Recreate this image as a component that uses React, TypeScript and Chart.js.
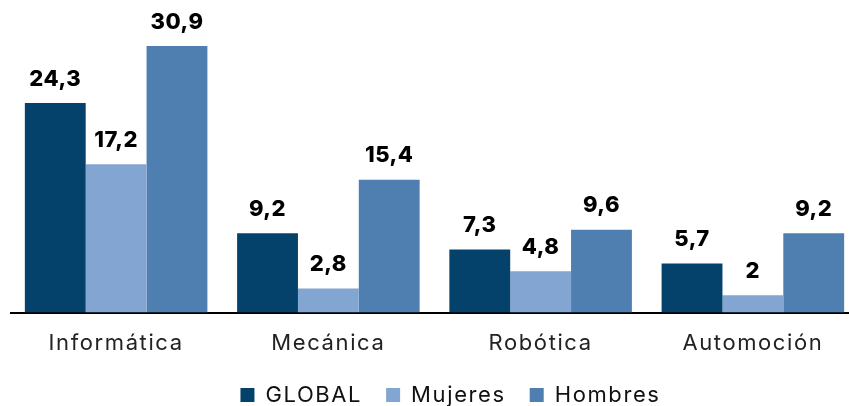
import React, { useEffect, useRef } from "react";
import { Chart, registerables } from "chart.js";

Chart.register(...registerables);

const categories = ["Informática", "Mecánica", "Robótica", "Automoción"];
const globalValues = [24.3, 9.2, 7.3, 5.7];
const mujeresValues = [17.2, 2.8, 4.8, 2];
const hombresValues = [30.9, 15.4, 9.6, 9.2];
const seriesNames = ["GLOBAL", "Mujeres", "Hombres"];
const seriesColors = ["#04426C", "#83A5D1", "#4F7FB0"];

const FONT = "Inter, 'Open Sans', sans-serif";

const spacing = {
  id: "spacing",
  beforeInit(chart: any) {
    chart.ctx.letterSpacing = "1.6px";
  },
  beforeDraw(chart: any) {
    chart.ctx.letterSpacing = "1.6px";
  },
};

const valueLabels = {
  id: "valueLabels",
  afterDatasetsDraw(chart: any) {
    const ctx = chart.ctx;
    ctx.save();
    ctx.letterSpacing = "0.5px";
    ctx.font = `800 22px ${FONT}`;
    ctx.fillStyle = "#000";
    ctx.textAlign = "center";
    ctx.textBaseline = "middle";
    chart.data.datasets.forEach((ds: any, i: number) => {
      const meta = chart.getDatasetMeta(i);
      meta.data.forEach((bar: any, j: number) => {
        const v = ds.data[j];
        ctx.fillText(String(v).replace(".", ","), bar.x, bar.y - 24);
      });
    });
    ctx.restore();
  },
};

export default function App() {
  const ref = useRef<HTMLCanvasElement>(null);
  useEffect(() => {
    document.body.style.margin = "0";
    const values = [globalValues, mujeresValues, hombresValues];
    const chart = new Chart(ref.current!, {
      type: "bar",
      data: {
        labels: categories,
        datasets: seriesNames.map((n, i) => ({
          label: n,
          data: values[i],
          backgroundColor: seriesColors[i],
          borderWidth: 0,
          categoryPercentage: 0.86,
          barPercentage: 1,
        })),
      },
      options: {
        animation: false,
        responsive: false,
        maintainAspectRatio: false,
        layout: { padding: { top: 2, left: 0, right: 0, bottom: 0 } },
        plugins: {
          legend: {
            position: "bottom",
            labels: {
              font: { family: FONT, size: 22 },
              color: "#111",
              boxWidth: 14,
              boxHeight: 14,
              padding: 24,
              useBorderRadius: false,
            },
          },
          tooltip: { enabled: false },
        },
        scales: {
          x: {
            grid: { display: false, drawTicks: false },
            border: { display: true, color: "#000", width: 2 },
            ticks: {
              font: { family: FONT, size: 22 },
              color: "#222",
              padding: 18,
            },
            afterFit: (axis: any) => {
              axis.height -= 15;
            },
          },
          y: {
            display: false,
            min: 0,
            max: 36,
          },
        },
      },
      plugins: [spacing, valueLabels],
    });
    return () => chart.destroy();
  }, []);
  return (
    <div style={{ position: "fixed", left: 0, top: 0, width: 849, height: 406, overflow: "hidden" }}>
      <div style={{ position: "absolute", left: 10, top: 0 }}>
        <canvas ref={ref} width={849} height={416} />
      </div>
    </div>
  );
}
